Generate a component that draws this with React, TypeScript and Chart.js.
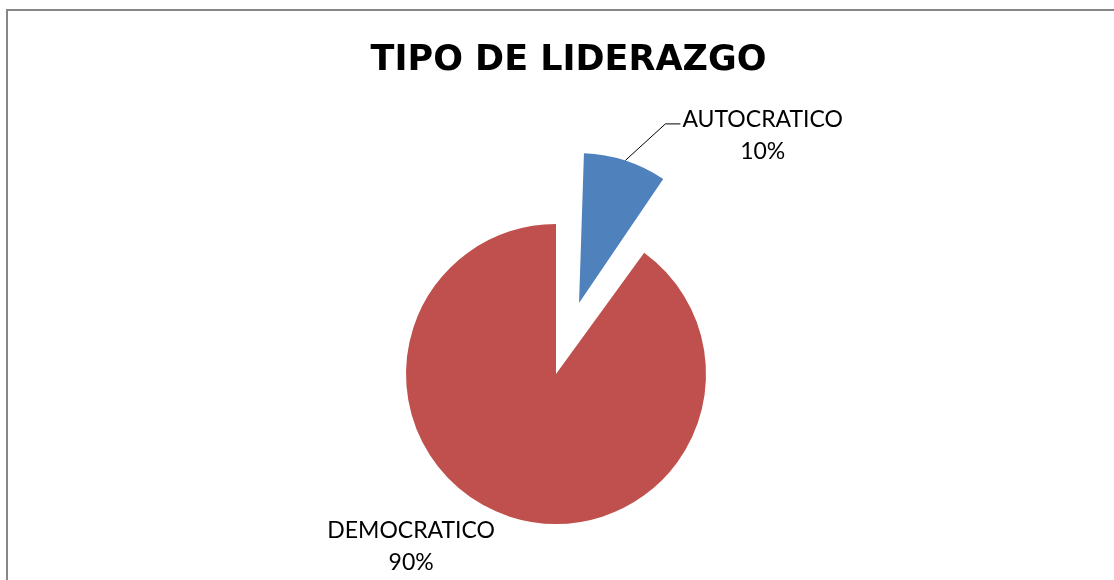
import React, { useEffect, useRef } from 'react';
import { Chart, registerables } from 'chart.js';

Chart.register(...registerables);

const chartTitle = 'TIPO DE LIDERAZGO';
const categories = ['AUTOCRATICO', 'DEMOCRATICO'];
const percentages = [10, 90];

const sliceColors = ['#4F81BD', '#C0504D'];
const sliceOffsets = [298.4, 0];
const PIE_RADIUS = 150;

// label placement relative to each slice's outer edge point at its mid-angle
const labelLayout = [
  { leader: [[40, -36.5], [55, -36.5]], textDx: 57, textDy: -33.5 },
  { leader: null, textDx: -98.5, textDy: 21.5 },
];

const LABEL_FONT = '23px Lato';
const TITLE_FONT = 'bold 35px "DejaVu Sans"';
const LINE_GAP = 32;

function arcGeom(arc: any) {
  const off = (arc.options.offset || 0) / 4;
  const fix = 1 - Math.sin(Math.min(Math.PI, arc.circumference || 0));
  return { off, fix };
}

const decorPlugin = {
  id: 'decor',
  afterDatasetUpdate(chart: any, args: any) {
    // keep exploded slices at the same drawn radius as the others (slice is only shifted)
    const meta = chart.getDatasetMeta(args.index);
    meta.data.forEach((arc: any) => {
      const { off, fix } = arcGeom(arc);
      arc.outerRadius = PIE_RADIUS - off * fix;
    });
  },
  beforeDraw(chart: any) {
    const ctx = chart.ctx;
    ctx.save();
    ctx.strokeStyle = '#878787';
    ctx.lineWidth = 2;
    ctx.strokeRect(1, 1, chart.width + 20, chart.height + 20);
    ctx.restore();
  },
  afterDraw(chart: any) {
    const ctx = chart.ctx;
    ctx.save();
    ctx.fillStyle = '#000';
    ctx.font = TITLE_FONT;
    ctx.textAlign = 'center';
    ctx.textBaseline = 'alphabetic';
    ctx.fillText(chartTitle, chart.width / 2, 60.5);

    const meta = chart.getDatasetMeta(0);
    const values = chart.data.datasets[0].data as number[];
    const total = values.reduce((a, b) => a + b, 0);
    meta.data.forEach((arc: any, i: number) => {
      const { x, y, startAngle, endAngle, outerRadius } = arc;
      const { off, fix } = arcGeom(arc);
      const mid = (startAngle + endAngle) / 2;
      const cx = x + Math.cos(mid) * off;
      const cy = y + Math.sin(mid) * off;
      const r = outerRadius + off * fix;
      const ex = cx + Math.cos(mid) * r;
      const ey = cy + Math.sin(mid) * r;
      const lay = labelLayout[i];
      const line1 = chart.data.labels[i] as string;
      const line2 = Math.round((values[i] / total) * 100) + '%';
      ctx.font = LABEL_FONT;
      ctx.fillStyle = '#000';
      ctx.textAlign = 'center';
      if (lay.leader) {
        ctx.strokeStyle = '#000';
        ctx.lineWidth = 1;
        ctx.beginPath();
        ctx.moveTo(ex, ey);
        lay.leader.forEach((p) => ctx.lineTo(ex + p[0], ey + p[1]));
        ctx.stroke();
        const w = Math.max(ctx.measureText(line1).width, ctx.measureText(line2).width);
        const left = ex + lay.textDx;
        ctx.fillText(line1, left + w / 2, ey + lay.textDy);
        ctx.fillText(line2, left + w / 2, ey + lay.textDy + LINE_GAP);
      } else {
        ctx.fillText(line1, ex + lay.textDx, ey + lay.textDy);
        ctx.fillText(line2, ex + lay.textDx, ey + lay.textDy + LINE_GAP);
      }
    });
    ctx.restore();
  },
};

export default function App() {
  const ref = useRef<HTMLCanvasElement | null>(null);
  useEffect(() => {
    if (!ref.current) return;
    const chart = new Chart(ref.current, {
      type: 'pie',
      data: {
        labels: categories,
        datasets: [
          {
            data: percentages,
            backgroundColor: sliceColors,
            borderWidth: 0,
            offset: sliceOffsets,
          } as any,
        ],
      },
      options: {
        animation: false,
        responsive: true,
        maintainAspectRatio: false,
        radius: PIE_RADIUS,
        layout: { padding: { left: 0, right: 25, top: 130, bottom: 0 } },
        plugins: {
          legend: { display: false },
          title: { display: false },
          tooltip: { enabled: false },
        },
        events: [],
      } as any,
      plugins: [decorPlugin],
    });
    return () => chart.destroy();
  }, []);
  return (
    <div style={{ position: 'fixed', left: 0, top: 0, width: 1114, height: 580, overflow: 'hidden', background: '#fff' }}>
      <div style={{ position: 'absolute', left: 6, top: 9, width: 1125, height: 600 }}>
        <canvas ref={ref} />
      </div>
    </div>
  );
}
